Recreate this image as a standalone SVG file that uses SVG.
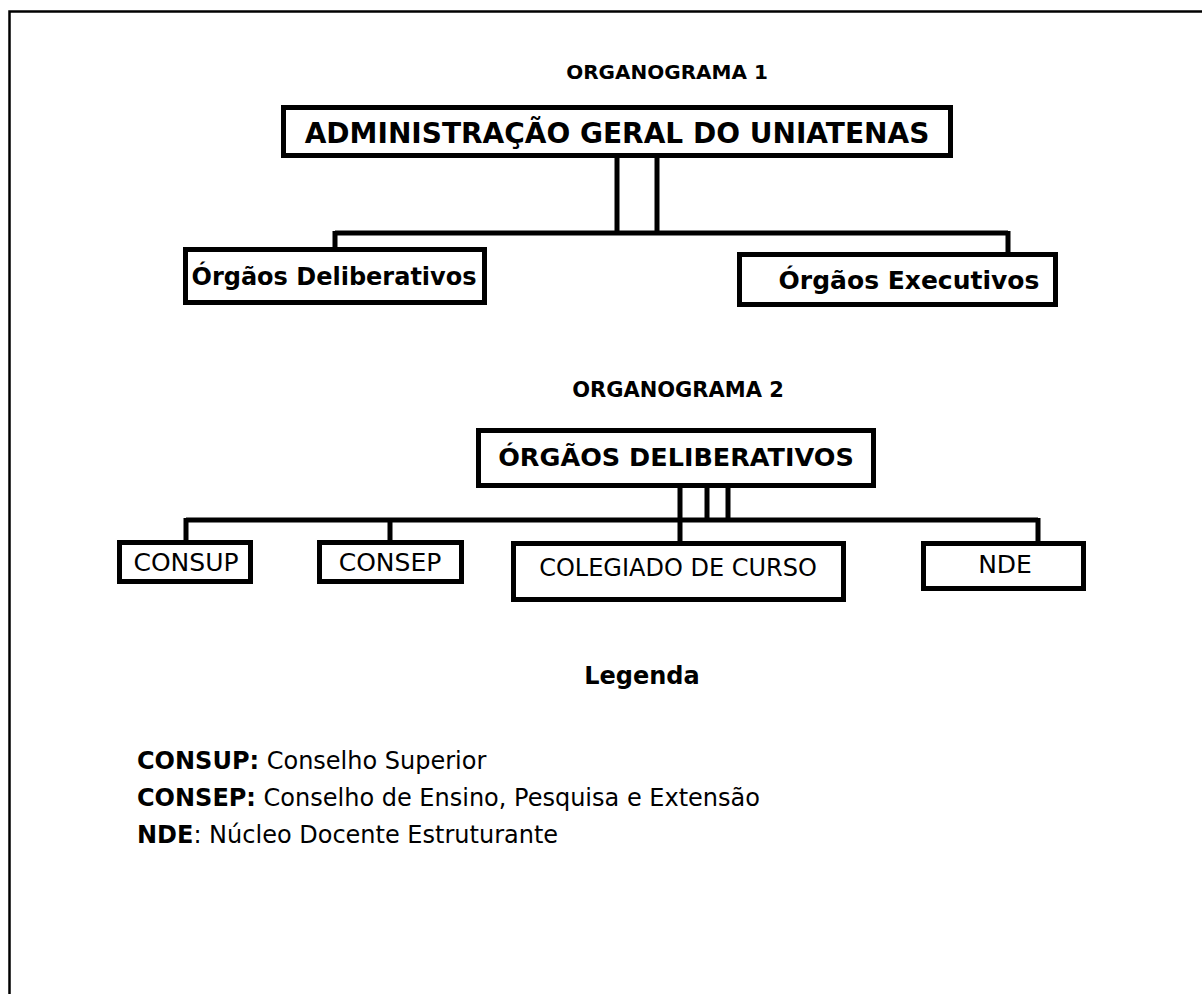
<svg xmlns="http://www.w3.org/2000/svg" width="1202" height="994" viewBox="0 0 1202 994">
<style>
.box{fill:#fff;stroke:#000;stroke-width:5}
.ln{fill:none;stroke:#000;stroke-width:5}
.b{font-family:"DejaVu Sans",Verdana,sans-serif;font-weight:bold;fill:#000}
.r{font-family:"DejaVu Sans",Verdana,sans-serif;fill:#000}
.t{font-size:20px}
</style>
<rect width="1202" height="994" fill="#fff"/>
<path d="M9.5,994 V11.5 H1202" fill="none" stroke="#000" stroke-width="2.5"/>
<g id="connectors">
<path class="ln" d="M617,158 V233 M657,158 V233 M335,233 H1008 M335,231 V248 M1008,231 V252"/>
<path class="ln" d="M680,487 V520 M707,487 V520 M728,487 V520 M186,520 H1038 M186,518 V540 M390,518 V540 M680,518 V541 M1038,518 V541"/>
</g>
<text class="b t" x="667" y="79" text-anchor="middle">ORGANOGRAMA 1</text>
<g id="adm">
<rect class="box" x="283.5" y="107.5" width="667" height="48"/>
<text class="b" x="617" y="143" font-size="28" text-anchor="middle">ADMINISTRAÇÃO GERAL DO UNIATENAS</text>
</g>
<g id="deliberativos">
<rect class="box" x="185.5" y="249.5" width="299" height="53"/>
<text class="b" x="334" y="285" font-size="24" text-anchor="middle">Órgãos Deliberativos</text>
</g>
<g id="executivos">
<rect class="box" x="739.5" y="254.5" width="316" height="50"/>
<text class="b" x="909" y="289" font-size="25" text-anchor="middle">Órgãos Executivos</text>
</g>
<text class="b" x="678" y="397" font-size="21" text-anchor="middle">ORGANOGRAMA 2</text>
<g id="orgaos-deliberativos">
<rect class="box" x="478.5" y="430.5" width="395" height="55"/>
<text class="b" x="676" y="466" font-size="25.5" text-anchor="middle">ÓRGÃOS DELIBERATIVOS</text>
</g>
<g id="consup">
<rect class="box" x="119.5" y="542.5" width="131" height="39"/>
<text class="r" x="186" y="571" font-size="25" text-anchor="middle">CONSUP</text>
</g>
<g id="consep">
<rect class="box" x="319.5" y="542.5" width="142" height="39"/>
<text class="r" x="390" y="571" font-size="25" text-anchor="middle">CONSEP</text>
</g>
<g id="colegiado">
<rect class="box" x="513.5" y="543.5" width="330" height="56"/>
<text class="r" x="678" y="576" font-size="24" text-anchor="middle">COLEGIADO DE CURSO</text>
</g>
<g id="nde">
<rect class="box" x="923.5" y="543.5" width="160" height="45"/>
<text class="r" x="1005" y="573" font-size="25" text-anchor="middle">NDE</text>
</g>
<g id="legenda">
<text class="b" x="642" y="684" font-size="24" text-anchor="middle">Legenda</text>
<text class="r" x="137" y="769" font-size="24"><tspan class="b">CONSUP:</tspan> Conselho Superior</text>
<text class="r" x="137" y="806" font-size="24"><tspan class="b">CONSEP:</tspan> Conselho de Ensino, Pesquisa e Extensão</text>
<text class="r" x="137" y="843" font-size="24"><tspan class="b">NDE</tspan>: Núcleo Docente Estruturante</text>
</g>
</svg>
